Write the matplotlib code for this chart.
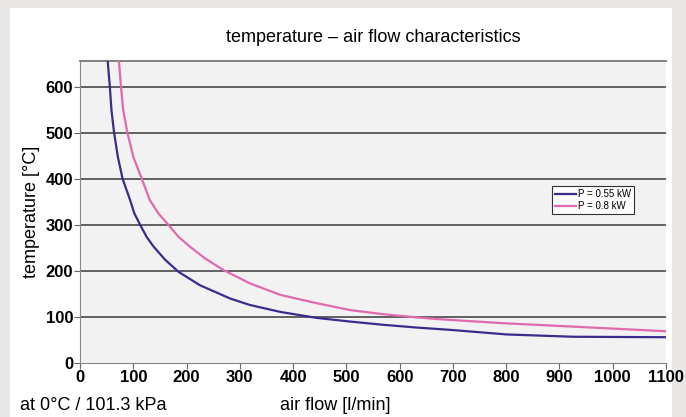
import matplotlib.pyplot as plt
from matplotlib.patches import Rectangle

blue_x = [52, 56, 59, 64, 71, 80, 94, 102, 113, 125, 138, 160, 185, 225, 282, 319, 376, 444, 507, 569, 632, 695, 801, 926, 1100]
blue_y = [656, 600, 550, 500, 448, 400, 354, 325, 300, 274, 253, 224, 198, 169, 140, 126, 111, 98, 90, 83, 77, 72, 62, 57, 56]
pink_x = [73, 77, 81, 89, 100, 116, 131, 147, 166, 185, 206, 235, 269, 319, 376, 444, 507, 569, 632, 676, 801, 926, 1100]
pink_y = [656, 600, 550, 500, 448, 400, 354, 325, 300, 274, 253, 227, 202, 173, 148, 130, 115, 106, 99, 95, 86, 79, 69]
x_ticks = list(range(0, 1101, 100))
y_ticks = list(range(0, 601, 100))

plt.rcParams['font.family'] = ['Liberation Sans', 'DejaVu Sans']

fig = plt.figure(figsize=(6.86, 4.17), dpi=100, facecolor='#e8e7e5')
fig.patches.append(Rectangle((10/686, 0), 662/686, 1 - 8/417, transform=fig.transFigure,
                             facecolor='white', edgecolor='none', zorder=-5))

ax = fig.add_axes([80/686, 54/417, 586/686, 302/417])
ax.set_facecolor('#f2f2f2')
for y in y_ticks[1:]:
    ax.axhline(y, color='#555555', lw=1.3, zorder=1)
ax.plot(blue_x, blue_y, color='#3d2a8c', lw=1.6, label='P = 0.55 kW', zorder=3,
        solid_joinstyle='round')
ax.plot(pink_x, pink_y, color='#e06aae', lw=1.6, label='P = 0.8 kW', zorder=3,
        solid_joinstyle='round')

ax.set_xlim(0, 1100)
ax.set_ylim(0, 656)
ax.set_xticks(x_ticks)
ax.set_yticks(y_ticks)
ax.tick_params(labelsize=12, length=4, color='#666666', pad=1)
for lab in ax.get_xticklabels() + ax.get_yticklabels():
    lab.set_fontweight('bold')
ax.spines['right'].set_visible(False)
ax.spines['top'].set_color('#777777')
ax.spines['top'].set_linewidth(1.3)
ax.spines['left'].set_color('#888888')
ax.spines['bottom'].set_color('#888888')

ax.set_title('temperature – air flow characteristics', fontsize=13, pad=14)
ax.set_ylabel('temperature [°C]', fontsize=13, labelpad=4)
fig.text(335/686, 1 - 405/417, 'air flow [l/min]', fontsize=13, ha='center', va='center')
fig.text(20/686, 1 - 405/417, 'at 0°C / 101.3 kPa', fontsize=13, ha='left', va='center')

leg = ax.legend(loc='upper left', bbox_to_anchor=(0.805, 0.585), fontsize=7, frameon=True,
                fancybox=False, edgecolor='black', handlelength=2.2, handletextpad=0.2,
                borderpad=0.3, labelspacing=0.2, borderaxespad=0)
leg.get_frame().set_linewidth(0.8)

fig.savefig('out.png', dpi=100, facecolor=fig.get_facecolor())
